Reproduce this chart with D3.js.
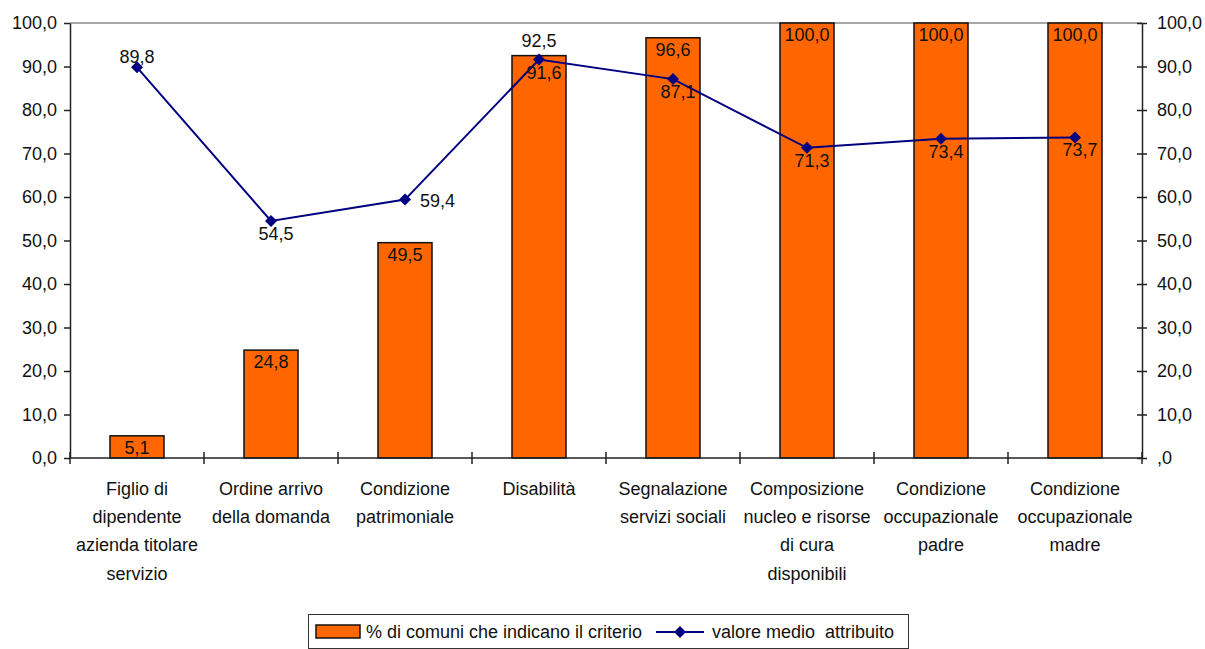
<!DOCTYPE html>
<html>
<head>
<meta charset="utf-8">
<script src="https://cdn.jsdelivr.net/npm/d3@7"></script>
<style>
	body { margin: 0; background: #fff; }
	text { font-family: "Liberation Sans", Arial, sans-serif; font-size: 18px; fill: #111; }
</style>
</head>
<body>
<svg id="chart"></svg>
<script>
// Data
const categories = [
	['Figlio di', 'dipendente', 'azienda titolare', 'servizio'],
	['Ordine arrivo', 'della domanda'],
	['Condizione', 'patrimoniale'],
	['Disabilità'],
	['Segnalazione', 'servizi sociali'],
	['Composizione', 'nucleo e risorse', 'di cura', 'disponibili'],
	['Condizione', 'occupazionale', 'padre'],
	['Condizione', 'occupazionale', 'madre']
];
const pctComuni = [5.1, 24.8, 49.5, 92.5, 96.6, 100.0, 100.0, 100.0];
const valoreMedio = [89.8, 54.5, 59.4, 91.6, 87.1, 71.3, 73.4, 73.7];
const yTicks = [0, 10, 20, 30, 40, 50, 60, 70, 80, 90, 100];
const barLabelPos = ['in', 'in', 'in', 'above', 'in', 'in', 'in', 'in'];
const lineLabelPos = ['above', 'below', 'right', 'below', 'below', 'below', 'below', 'below'];
const legendLabels = ['% di comuni che indicano il criterio', 'valore medio  attribuito'];

const W = 1205, H = 649;
const margin = { top: 23, right: 63, bottom: 191, left: 70 };

const svg = d3.select('#chart').attr('width', W).attr('height', H);

const idx = d3.range(categories.length);
const x = d3.scaleBand()
	.domain(idx)
	.range([margin.left, W - margin.right])
	.paddingInner(0.597)
	.paddingOuter(0.2985);

const y = d3.scaleLinear()
	.domain([0, 100])
	.range([H - margin.bottom, margin.top]);

const fmt = d => d.toFixed(1).replace('.', ',');
const x0 = margin.left, x1 = W - margin.right;

// top border line
svg.append('line')
	.attr('x1', x0).attr('x2', x1)
	.attr('y1', y(100)).attr('y2', y(100))
	.attr('stroke', '#888').attr('stroke-width', 1.5);

// bars
svg.append('g').selectAll('rect')
	.data(pctComuni)
	.enter().append('rect')
	.attr('x', (d, i) => x(i))
	.attr('y', d => y(d))
	.attr('width', x.bandwidth())
	.attr('height', d => y(0) - y(d))
	.attr('fill', '#ff6600')
	.attr('stroke', '#111')
	.attr('stroke-width', 1.5);

// left axis
const leftAxis = svg.append('g')
	.attr('transform', `translate(${x0},0)`)
	.call(d3.axisLeft(y).tickValues(yTicks).tickFormat(fmt).tickSizeInner(6).tickSizeOuter(0).tickPadding(7));

// right axis
const rightAxis = svg.append('g')
	.attr('transform', `translate(${x1},0)`)
	.call(d3.axisRight(y).tickValues(yTicks).tickFormat(d => d === 0 ? ',0' : fmt(d)).tickSizeInner(5).tickSizeOuter(0).tickPadding(10));
rightAxis.selectAll('.tick line').attr('x1', -5);

[leftAxis, rightAxis].forEach(g => {
	g.select('.domain').attr('stroke', '#222').attr('stroke-width', 1.5);
	g.selectAll('.tick line').attr('stroke', '#222').attr('stroke-width', 1.5);
	g.selectAll('.tick text').style('font-size', '18px').attr('fill', '#111');
});

// x axis with ticks on category boundaries
const xAxisG = svg.append('g');
xAxisG.append('line')
	.attr('x1', x0).attr('x2', x1)
	.attr('y1', y(0)).attr('y2', y(0))
	.attr('stroke', '#222').attr('stroke-width', 1.5);
xAxisG.selectAll('.xtick')
	.data(d3.range(categories.length + 1))
	.enter().append('line')
	.attr('class', 'xtick')
	.attr('x1', i => x0 + i * x.step())
	.attr('x2', i => x0 + i * x.step())
	.attr('y1', y(0) - 6).attr('y2', y(0) + 6)
	.attr('stroke', '#222').attr('stroke-width', 1.5);

// category labels
const catG = svg.append('g').selectAll('text')
	.data(categories)
	.enter().append('text')
	.attr('text-anchor', 'middle')
	.attr('x', (d, i) => x(i) + x.bandwidth() / 2)
	.attr('y', y(0) + 37);
catG.selectAll('tspan')
	.data(d => d)
	.enter().append('tspan')
	.attr('x', function () { return d3.select(this.parentNode).attr('x'); })
	.attr('dy', (d, i) => i === 0 ? 0 : 28.2)
	.text(d => d);

// bar labels
svg.append('g').selectAll('text')
	.data(pctComuni)
	.enter().append('text')
	.attr('text-anchor', 'middle')
	.attr('x', (d, i) => x(i) + x.bandwidth() / 2)
	.attr('y', (d, i) => barLabelPos[i] === 'above'
		? y(d) - 15 + 6
		: Math.min(y(d) + 12, y(0) - 6) + 6)
	.text(fmt);

// line
const cx = i => x(i) + x.bandwidth() / 2;
const line = d3.line()
	.x((d, i) => cx(i))
	.y(d => y(d));

svg.append('path')
	.datum(valoreMedio)
	.attr('d', line)
	.attr('fill', 'none')
	.attr('stroke', '#000080')
	.attr('stroke-width', 2);

const diamond = 'M0,-6L6,0L0,6L-6,0Z';
svg.append('g').selectAll('path')
	.data(valoreMedio)
	.enter().append('path')
	.attr('d', diamond)
	.attr('transform', (d, i) => `translate(${cx(i)},${y(d)})`)
	.attr('fill', '#000080');

// line labels
svg.append('g').selectAll('text')
	.data(valoreMedio)
	.enter().append('text')
	.attr('text-anchor', (d, i) => lineLabelPos[i] === 'right' ? 'start' : 'middle')
	.attr('x', (d, i) => lineLabelPos[i] === 'right' ? cx(i) + 15 : cx(i) + (lineLabelPos[i] === 'above' ? 0 : 5))
	.attr('y', (d, i) => {
		const p = lineLabelPos[i];
		if (p === 'above') return y(d) - 10 + 6;
		if (p === 'right') return y(d) + 1 + 6;
		return y(d) + 13 + 6;
	})
	.text(fmt);

// legend
const legend = svg.append('g');
legend.append('rect')
	.attr('x', 308.5).attr('y', 614.5)
	.attr('width', 600).attr('height', 34)
	.attr('fill', '#fff').attr('stroke', '#333').attr('stroke-width', 1);
legend.append('rect')
	.attr('x', 316).attr('y', 625)
	.attr('width', 44).attr('height', 13)
	.attr('fill', '#ff6600').attr('stroke', '#111').attr('stroke-width', 1.5);
legend.append('text')
	.attr('x', 366).attr('y', 638)
	.text(legendLabels[0]);
legend.append('line')
	.attr('x1', 656).attr('x2', 704)
	.attr('y1', 632).attr('y2', 632)
	.attr('stroke', '#000080').attr('stroke-width', 2);
legend.append('path')
	.attr('d', diamond)
	.attr('transform', 'translate(680,632)')
	.attr('fill', '#000080');
legend.append('text')
	.attr('x', 712).attr('y', 638)
	.attr('xml:space', 'preserve')
	.style('white-space', 'pre')
	.text(legendLabels[1]);
</script>
</body>
</html>
